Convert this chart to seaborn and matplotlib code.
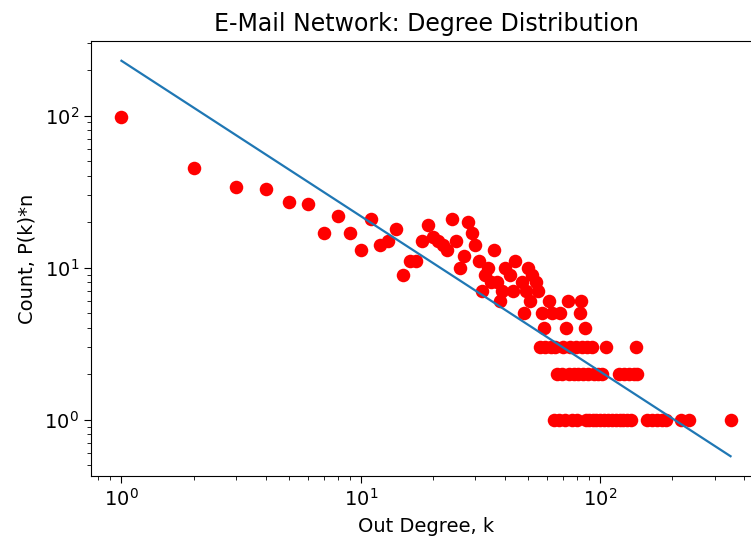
import matplotlib
matplotlib.use("Agg")
import matplotlib.pyplot as plt
import seaborn as sns
import numpy as np
import pandas as pd

# ---- data (out-degree k -> count) ----
deg_high = [1, 2, 3, 4, 5, 6, 7, 8, 9, 10, 11, 12, 13, 14, 15, 16, 17, 18, 19, 20,
            21, 22, 23, 24, 25, 26, 27, 28, 29, 30, 31, 32, 33, 34, 35, 36, 37, 38,
            39, 40, 42, 43, 44, 47, 48, 49, 50, 51, 52, 54, 55]
cnt_high = [98, 45, 34, 33, 27, 26, 17, 22, 17, 13, 21, 14, 15, 18, 9, 11, 11, 15, 19, 16,
            15, 14, 13, 21, 15, 10, 12, 20, 17, 14, 11, 7, 9, 10, 8, 13, 8, 6,
            7, 10, 9, 7, 11, 8, 5, 7, 10, 6, 9, 8, 7]

deg_c6 = [61, 73, 83]
deg_c5 = [57, 63, 68, 82]
deg_c4 = [58, 72, 86]
deg_c3 = [56, 59, 62, 65, 70, 75, 79, 84, 88, 92, 106, 141]
deg_c2 = [66, 69, 74, 78, 81, 85, 89, 94, 98, 102, 120, 126, 132, 138, 143]
deg_c1 = [64, 67, 71, 76, 80, 87, 90, 93, 96, 100, 104, 108, 112, 116, 121, 125, 129,
          134, 157, 165, 173, 181, 189, 218, 235, 350]

# power-law fit shown as the blue line: count = fit_coef * k ** fit_exp
fit_coef = 229.0
fit_exp = -1.022

title = "E-Mail Network: Degree Distribution"
xlabel = "Out Degree, k"
ylabel = "Count, P(k)*n"

# ---- assemble ----
k_all = list(deg_high)
c_all = list(cnt_high)
for cnt, ks in [(6, deg_c6), (5, deg_c5), (4, deg_c4), (3, deg_c3), (2, deg_c2), (1, deg_c1)]:
    k_all += ks
    c_all += [cnt] * len(ks)
df = pd.DataFrame({"k": k_all, "count": c_all}).sort_values("k").reset_index(drop=True)
df["fit"] = fit_coef * df["k"].astype(float) ** fit_exp

fig = plt.figure(figsize=(7.51, 5.47), dpi=100)
ax = fig.add_axes([91 / 751, (547 - 476) / 547, 670 / 751, 435 / 547])

sns.scatterplot(data=df, x="k", y="count", ax=ax, color="red", s=95, linewidth=0, zorder=2)
sns.lineplot(data=df, x="k", y="fit", ax=ax, color="#1f77b4", linewidth=1.6, zorder=3)

ax.set_xscale("log")
ax.set_yscale("log")
ax.margins(0.05)

ax.set_title(title, fontsize=17, pad=7)
ax.set_xlabel(xlabel, fontsize=14, labelpad=5)
ax.set_ylabel(ylabel, fontsize=14, labelpad=6)
ax.tick_params(axis="both", which="major", labelsize=14, length=5)
ax.tick_params(axis="both", which="minor", length=3)

fig.savefig("out.png", dpi=100)
